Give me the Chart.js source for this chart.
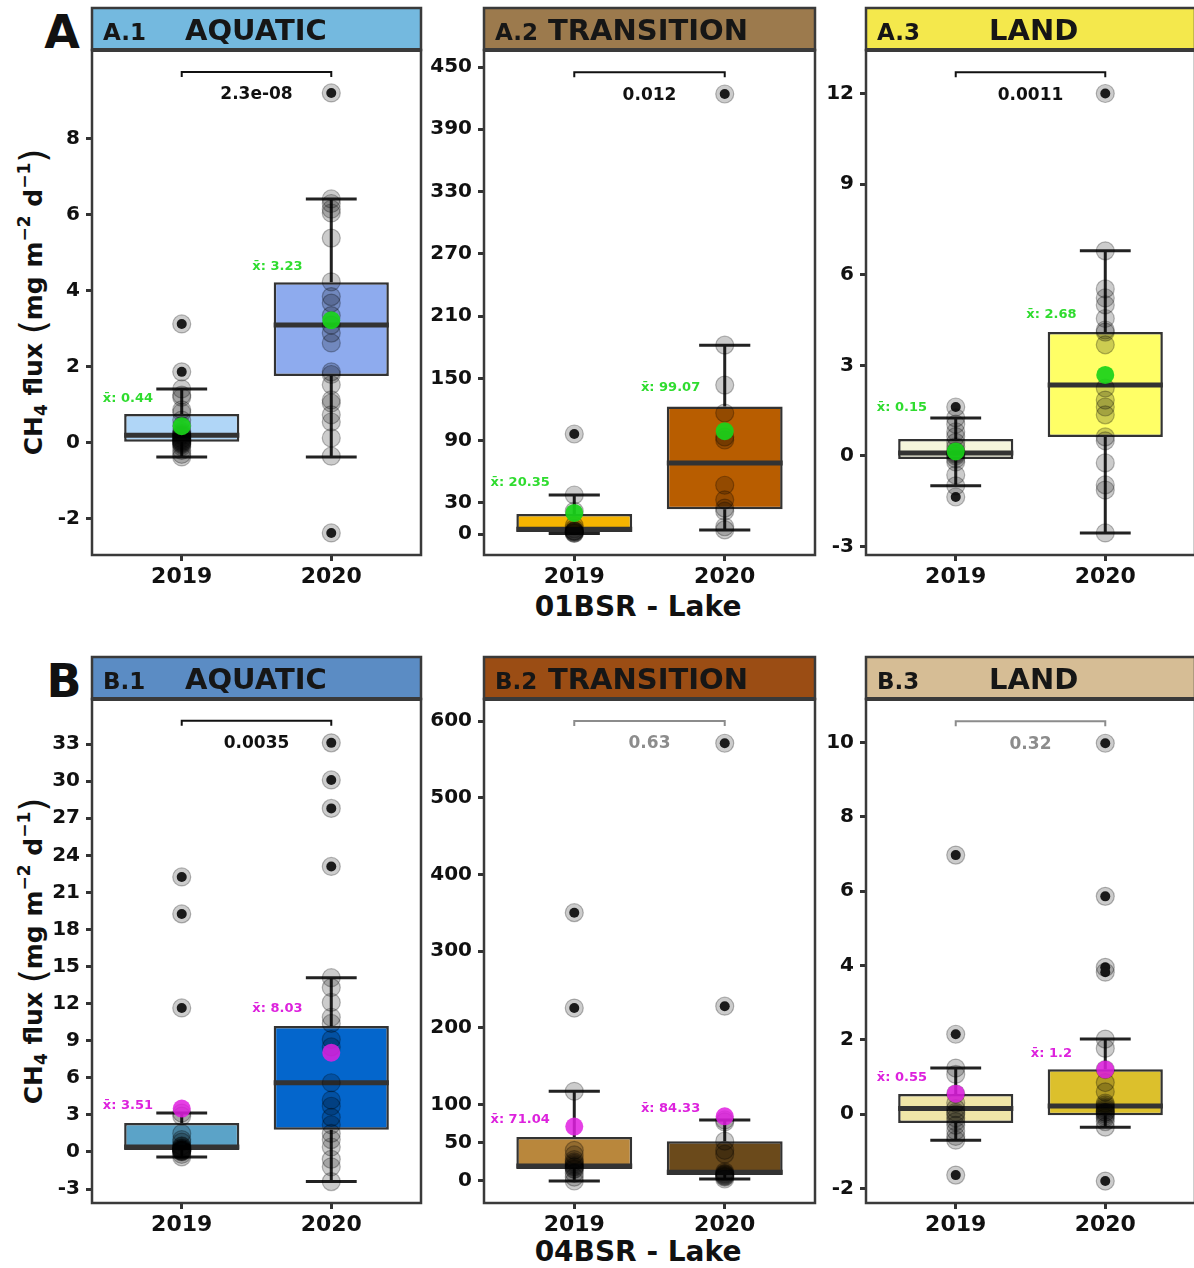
<!DOCTYPE html>
<html><head><meta charset="utf-8">
<script src="https://cdn.jsdelivr.net/npm/chart.js@4.4.0/dist/chart.umd.min.js"></script>
<style>
body{margin:0;background:#fff;width:1194px;height:1268px;position:relative;overflow:hidden;font-family:'DejaVu Sans',sans-serif;color:#111;}
canvas{position:absolute;}
.big{position:absolute;font-weight:bold;font-size:46px;line-height:1;transform:translate(-50%,-50%);}
.xt{position:absolute;font-weight:bold;font-size:28px;line-height:1;transform:translate(-50%,-50%);white-space:nowrap;}
.yt{position:absolute;font-weight:bold;font-size:25px;line-height:1;white-space:nowrap;transform:translate(-50%,-50%) rotate(-90deg);}
.yt sub{font-size:17px;vertical-align:-5px;}
.yt sup{font-size:17px;vertical-align:12px;}
.yt .par{font-weight:normal;font-size:36px;vertical-align:-3px;}
</style></head><body>

<div class="big" style="left:62px;top:32px;">A</div>
<div class="big" style="left:64px;top:681px;">B</div>
<div class="yt" style="left:33px;top:302px;">CH<sub>4</sub> flux <span class="par">(</span>mg m<sup>−2</sup> d<sup>−1</sup><span class="par">)</span></div>
<div class="yt" style="left:33px;top:951px;">CH<sub>4</sub> flux <span class="par">(</span>mg m<sup>−2</sup> d<sup>−1</sup><span class="par">)</span></div>
<div class="xt" style="left:638px;top:607px;">01BSR - Lake</div>
<div class="xt" style="left:638px;top:1252px;">04BSR - Lake</div>

<script>
// ---------------- DATA ----------------
const categories = ['2019', '2020'];

// A.1 AQUATIC (01BSR)
const A1_points2019 = [3.13, 1.87, 1.42, 1.26, 1.2, 0.87, 0.8, 0.6, 0.45, 0.3, 0.25, 0.22, 0.2, 0.18, 0.15, 0.12, 0.1, 0.08, 0.05, 0.04, 0.02, 0, -0.02, -0.05, -0.1, -0.2, -0.3, -0.37];
const A1_points2020 = [9.21, 6.42, 6.3, 6.15, 6.05, 5.39, 4.24, 3.85, 3.68, 3.35, 3.1, 2.89, 2.63, 1.87, 1.8, 1.53, 1.13, 1.05, 0.74, 0.55, 0.13, -0.35, -2.37];
const A1_box = [[-0.37, 0.03, 0.2, 0.76, 1.42], [-0.37, 1.76, 3.1, 4.23, 6.42]];
const A1_mean = [0.44, 3.23];
const A1_yTicks = [-2, 0, 2, 4, 6, 8];
const A1_p = '2.3e-08';

// A.2 TRANSITION (01BSR)
const A2_points2019 = [96.4, 37.6, 22, 8, 5, 3, 3, 2.5, 2, 1.5, 1, 0.5];
const A2_points2020 = [424, 182, 143.5, 116.6, 93.5, 90.6, 47, 33, 25, 22, 7, 4];
const A2_box = [[0.5, 2, 4.5, 19.3, 37.6], [4, 24, 68.4, 123, 182]];
const A2_mean = [20.35, 99.07];
const A2_yTicks = [0, 30, 90, 150, 210, 270, 330, 390, 450];
const A2_p = '0.012';

// A.3 LAND (01BSR)
const A3_points2019 = [1.62, 1.26, 1.05, 0.8, 0.64, 0.45, 0.3, 0.15, 0.1, 0.05, 0, -0.1, -0.2, -0.63, -0.99, -1.36];
const A3_points2020 = [12.0, 6.79, 5.53, 5.23, 5.0, 4.55, 4.17, 4.1, 3.68, 2.25, 1.85, 1.62, 1.36, 0.63, 0.5, -0.23, -0.96, -1.13, -2.55];
const A3_box = [[-0.99, -0.1, 0.1, 0.56, 1.26], [-2.55, 0.63, 2.35, 4.1, 6.79]];
const A3_mean = [0.15, 2.68];
const A3_yTicks = [-3, 0, 3, 6, 9, 12];
const A3_p = '0.0011';

// B.1 AQUATIC (04BSR)
const B1_points2019 = [22.25, 19.26, 11.65, 3.15, 2.9, 1.5, 1.0, 0.8, 0.5, 0.45, 0.35, 0.3, 0.25, 0.2, 0.15, 0.15, 0.1, 0.05, 0.05, 0, -0.2, -0.4];
const B1_points2020 = [33.1, 30.1, 27.8, 23.1, 14.1, 13.3, 12.1, 10.9, 10.4, 9.1, 8.5, 5.6, 4.2, 3.7, 2.8, 2.2, 1.5, 1.0, 0.4, -0.6, -1.2, -2.4];
const B1_box = [[-0.4, 0.16, 0.4, 2.35, 3.15], [-2.4, 1.8, 5.6, 10.2, 14.1]];
const B1_mean = [3.51, 8.03];
const B1_yTicks = [-3, 0, 3, 6, 9, 12, 15, 18, 21, 24, 27, 30, 33];
const B1_p = '0.0035';

// B.2 TRANSITION (04BSR)
const B2_points2019 = [350, 225.6, 117, 40, 34, 28, 25, 23, 21, 19, 18, 16, 15, 10, 5, 0];
const B2_points2020 = [571, 228, 79.6, 77, 52, 40, 35, 12, 10, 9, 8, 7, 6, 5, 2.6];
const B2_box = [[0, 15.6, 19.6, 57.4, 117], [2.6, 7.8, 11.5, 52, 79.6]];
const B2_mean = [71.04, 84.33];
const B2_yTicks = [0, 50, 100, 200, 300, 400, 500, 600];
const B2_p = '0.63';

// B.3 LAND (04BSR)
const B3_points2019 = [6.97, 2.15, 1.24, 1.07, 0.55, 0.3, 0.15, 0.05, 0, -0.1, -0.2, -0.3, -0.45, -0.6, -0.7, -1.64];
const B3_points2020 = [9.98, 5.86, 3.95, 3.82, 2.02, 1.77, 1.2, 0.85, 0.6, 0.3, 0.25, 0.2, 0.15, 0.1, 0.05, 0.05, 0, -0.05, -0.1, -0.2, -0.35, -1.8];
const B3_box = [[-0.7, -0.24, 0.15, 0.54, 1.24], [-0.35, -0.03, 0.22, 1.21, 2.02]];
const B3_mean = [0.55, 1.2];
const B3_yTicks = [-2, 0, 2, 4, 6, 8, 10];
const B3_p = '0.32';

// ---------------- LAYOUT / STYLE ----------------
const panels = [
  {tag:'A.1', title:'AQUATIC', titleX:93, strip:'#74b9df', boxColors:['#b0d6f7','#8eabee'], pts:[A1_points2019,A1_points2020], box:A1_box, mean:A1_mean, ticks:A1_yTicks, p:A1_p, sig:'#111',
   L:92, R:421, T:50, B:555, yMin:-2.95, yMax:10.34, bracketY:9.76, labelY:[1.16,4.63], meanCol:'rgba(25,210,25,0.92)', meanTxt:'#2fdc2f'},
  {tag:'A.2', title:'TRANSITION', titleX:64, strip:'#9c7a4d', boxColors:['#f5b400','#b85d00'], pts:[A2_points2019,A2_points2020], box:A2_box, mean:A2_mean, ticks:A2_yTicks, p:A2_p, sig:'#111',
   L:484, R:815, T:50, B:555, yMin:-20.2, yMax:466.4, bracketY:445, labelY:[49.1,140.7], meanCol:'rgba(25,210,25,0.92)', meanTxt:'#2fdc2f'},
  {tag:'A.3', title:'LAND', titleX:123, strip:'#f4e84c', boxColors:['#f6f6dc','#ffff66'], pts:[A3_points2019,A3_points2020], box:A3_box, mean:A3_mean, ticks:A3_yTicks, p:A3_p, sig:'#111',
   L:866, R:1195, T:50, B:555, yMin:-3.28, yMax:13.44, bracketY:12.7, labelY:[1.59,4.67], meanCol:'rgba(25,210,25,0.92)', meanTxt:'#2fdc2f'},
  {tag:'B.1', title:'AQUATIC', titleX:93, strip:'#5b8cc4', boxColors:['#5ba3c8','#0466cc'], pts:[B1_points2019,B1_points2020], box:B1_box, mean:B1_mean, ticks:B1_yTicks, p:B1_p, sig:'#111',
   L:92, R:421, T:699, B:1203, yMin:-4.13, yMax:36.65, bracketY:34.9, labelY:[3.72,11.57], meanCol:'rgba(225,30,225,0.85)', meanTxt:'#dd22dd'},
  {tag:'B.2', title:'TRANSITION', titleX:64, strip:'#9b4d14', boxColors:['#b9873c','#6b4a1b'], pts:[B2_points2019,B2_points2020], box:B2_box, mean:B2_mean, ticks:B2_yTicks, p:B2_p, sig:'#8c8c8c',
   L:484, R:815, T:699, B:1203, yMin:-28.7, yMax:628.7, bracketY:600, labelY:[79.6,93.9], meanCol:'rgba(225,30,225,0.85)', meanTxt:'#dd22dd'},
  {tag:'B.3', title:'LAND', titleX:123, strip:'#d6bd95', boxColors:['#f0e6a8','#dcc02c'], pts:[B3_points2019,B3_points2020], box:B3_box, mean:B3_mean, ticks:B3_yTicks, p:B3_p, sig:'#8c8c8c',
   L:866, R:1195, T:699, B:1203, yMin:-2.39, yMax:11.17, bracketY:10.57, labelY:[0.97,1.64], meanCol:'rgba(225,30,225,0.85)', meanTxt:'#dd22dd'}
];

const FONT = "'DejaVu Sans', sans-serif";
const AXW = 70, STRIP = 44, XAH = 45, PADR = 3;
const HALF = 0.385, CAP = 0.17;

function makeDeco(p) {
  return {
    id: 'deco',
    afterDraw(chart) {
      const {ctx, chartArea: ca, scales: {x, y}} = chart;
      ctx.save();
      ctx.strokeStyle = '#3a3a3a'; ctx.lineWidth = 2.5;
      ctx.strokeRect(ca.left, ca.top, ca.right - ca.left, ca.bottom - ca.top);
      const sh = 42;
      ctx.fillStyle = p.strip;
      ctx.fillRect(ca.left, ca.top - sh, ca.right - ca.left, sh);
      ctx.strokeRect(ca.left, ca.top - sh, ca.right - ca.left, sh);
      ctx.lineWidth = 4; ctx.beginPath(); ctx.moveTo(ca.left, ca.top); ctx.lineTo(ca.right, ca.top); ctx.stroke();
      ctx.fillStyle = '#161616'; ctx.textBaseline = 'alphabetic'; ctx.textAlign = 'left';
      const base = ca.top - sh / 2 + 11;
      ctx.font = 'bold 23px ' + FONT;
      ctx.fillText(p.tag, ca.left + 11, base);
      ctx.font = 'bold 29px ' + FONT;
      ctx.fillText(p.title, ca.left + p.titleX, base);
      // significance bracket
      const x1 = x.getPixelForValue(1), x2 = x.getPixelForValue(2), yb = y.getPixelForValue(p.bracketY);
      ctx.strokeStyle = p.sig; ctx.lineWidth = 2;
      ctx.beginPath(); ctx.moveTo(x1, yb + 5); ctx.lineTo(x1, yb); ctx.lineTo(x2, yb); ctx.lineTo(x2, yb + 5); ctx.stroke();
      ctx.fillStyle = p.sig; ctx.font = 'bold 17px ' + FONT; ctx.textAlign = 'center'; ctx.textBaseline = 'middle';
      ctx.fillText(p.p, (x1 + x2) / 2, yb + 23);
      ctx.font = 'bold 13px ' + FONT; ctx.fillStyle = p.meanTxt;
      p.mean.forEach((m, i) => {
        ctx.fillText('x\u0304: ' + m, x.getPixelForValue(i + 1 - 0.36), y.getPixelForValue(p.labelY[i]));
      });
      ctx.restore();
    }
  };
}

panels.forEach(p => {
  const cv = document.createElement('canvas');
  const w = p.R - p.L + AXW + PADR;
  const h = p.B - p.T + STRIP + XAH;
  cv.width = w; cv.height = h;
  cv.style.left = (p.L - AXW) + 'px'; cv.style.top = (p.T - STRIP) + 'px';
  cv.style.width = w + 'px'; cv.style.height = h + 'px';
  document.body.appendChild(cv);

  const X = [1, 2];
  const boxData = X.map((xv, i) => ({x: xv, y: [p.box[i][1], p.box[i][3]]}));
  const whisk = [], med = [], pts = [], outl = [];
  X.forEach((xv, i) => {
    const [lo, q1, md, q3, hi] = p.box[i];
    whisk.push({x: xv, y: q3}, {x: xv, y: hi}, {x: xv, y: null},
               {x: xv, y: q1}, {x: xv, y: lo}, {x: xv, y: null},
               {x: xv - CAP, y: hi}, {x: xv + CAP, y: hi}, {x: xv, y: null},
               {x: xv - CAP, y: lo}, {x: xv + CAP, y: lo}, {x: xv, y: null});
    med.push({x: xv - HALF, y: md}, {x: xv + HALF, y: md}, {x: xv, y: null});
    p.pts[i].forEach(v => {
      pts.push({x: xv, y: v});
      if (v > hi + 1e-9 || v < lo - 1e-9) outl.push({x: xv, y: v});
    });
  });
  const means = p.mean.map((m, i) => ({x: X[i], y: m}));

  new Chart(cv, {
    type: 'scatter',
    data: {
      datasets: [
        {type: 'line', data: whisk, borderColor: '#222', borderWidth: 3, pointRadius: 0, spanGaps: false, fill: false, order: 5},
        {type: 'bar', data: boxData, backgroundColor: p.boxColors, borderColor: '#333', borderWidth: 2.5, borderSkipped: false,
         barPercentage: 0.77, categoryPercentage: 1, grouped: false, order: 4},
        {type: 'line', data: med, borderColor: '#333', borderWidth: 5, pointRadius: 0, spanGaps: false, fill: false, order: 3},
        {type: 'scatter', data: outl, pointRadius: 5, backgroundColor: '#222', borderWidth: 0, order: 2},
        {type: 'scatter', data: pts, pointRadius: 9, backgroundColor: 'rgba(0,0,0,0.2)', borderColor: 'rgba(0,0,0,0.28)', borderWidth: 1.2, order: 1},
        {type: 'scatter', data: means, pointRadius: 9, backgroundColor: p.meanCol, borderWidth: 0, order: 0}
      ]
    },
    options: {
      responsive: false, animation: false, devicePixelRatio: 1,
      layout: {autoPadding: false, padding: {top: STRIP, right: PADR, left: 0, bottom: 0}},
      plugins: {legend: {display: false}, tooltip: {enabled: false}},
      events: [],
      scales: {
        x: {
          type: 'linear', min: 0.4, max: 2.6, offset: false,
          afterBuildTicks: s => { s.ticks = [{value: 1}, {value: 2}]; },
          afterFit: s => { s.height = XAH; },
          ticks: {autoSkip: false, maxRotation: 0, padding: 3, color: '#111',
                  font: {family: FONT, weight: 'bold', size: 22}, callback: v => categories[v - 1]},
          grid: {display: true, offset: false, drawOnChartArea: false, drawTicks: true, tickLength: 6, tickWidth: 3, tickColor: '#333'},
          border: {display: false}
        },
        y: {
          type: 'linear', min: p.yMin, max: p.yMax,
          afterBuildTicks: s => { s.ticks = p.ticks.map(v => ({value: v})); },
          afterFit: s => { s.width = AXW; },
          ticks: {autoSkip: false, padding: 6, color: '#111',
                  font: {family: FONT, weight: 'bold', size: 20}, callback: v => String(v)},
          grid: {display: true, drawOnChartArea: false, drawTicks: true, tickLength: 6, tickWidth: 3, tickColor: '#333'},
          border: {display: false}
        }
      }
    },
    plugins: [makeDeco(p)]
  });
});
</script>
</body></html>
